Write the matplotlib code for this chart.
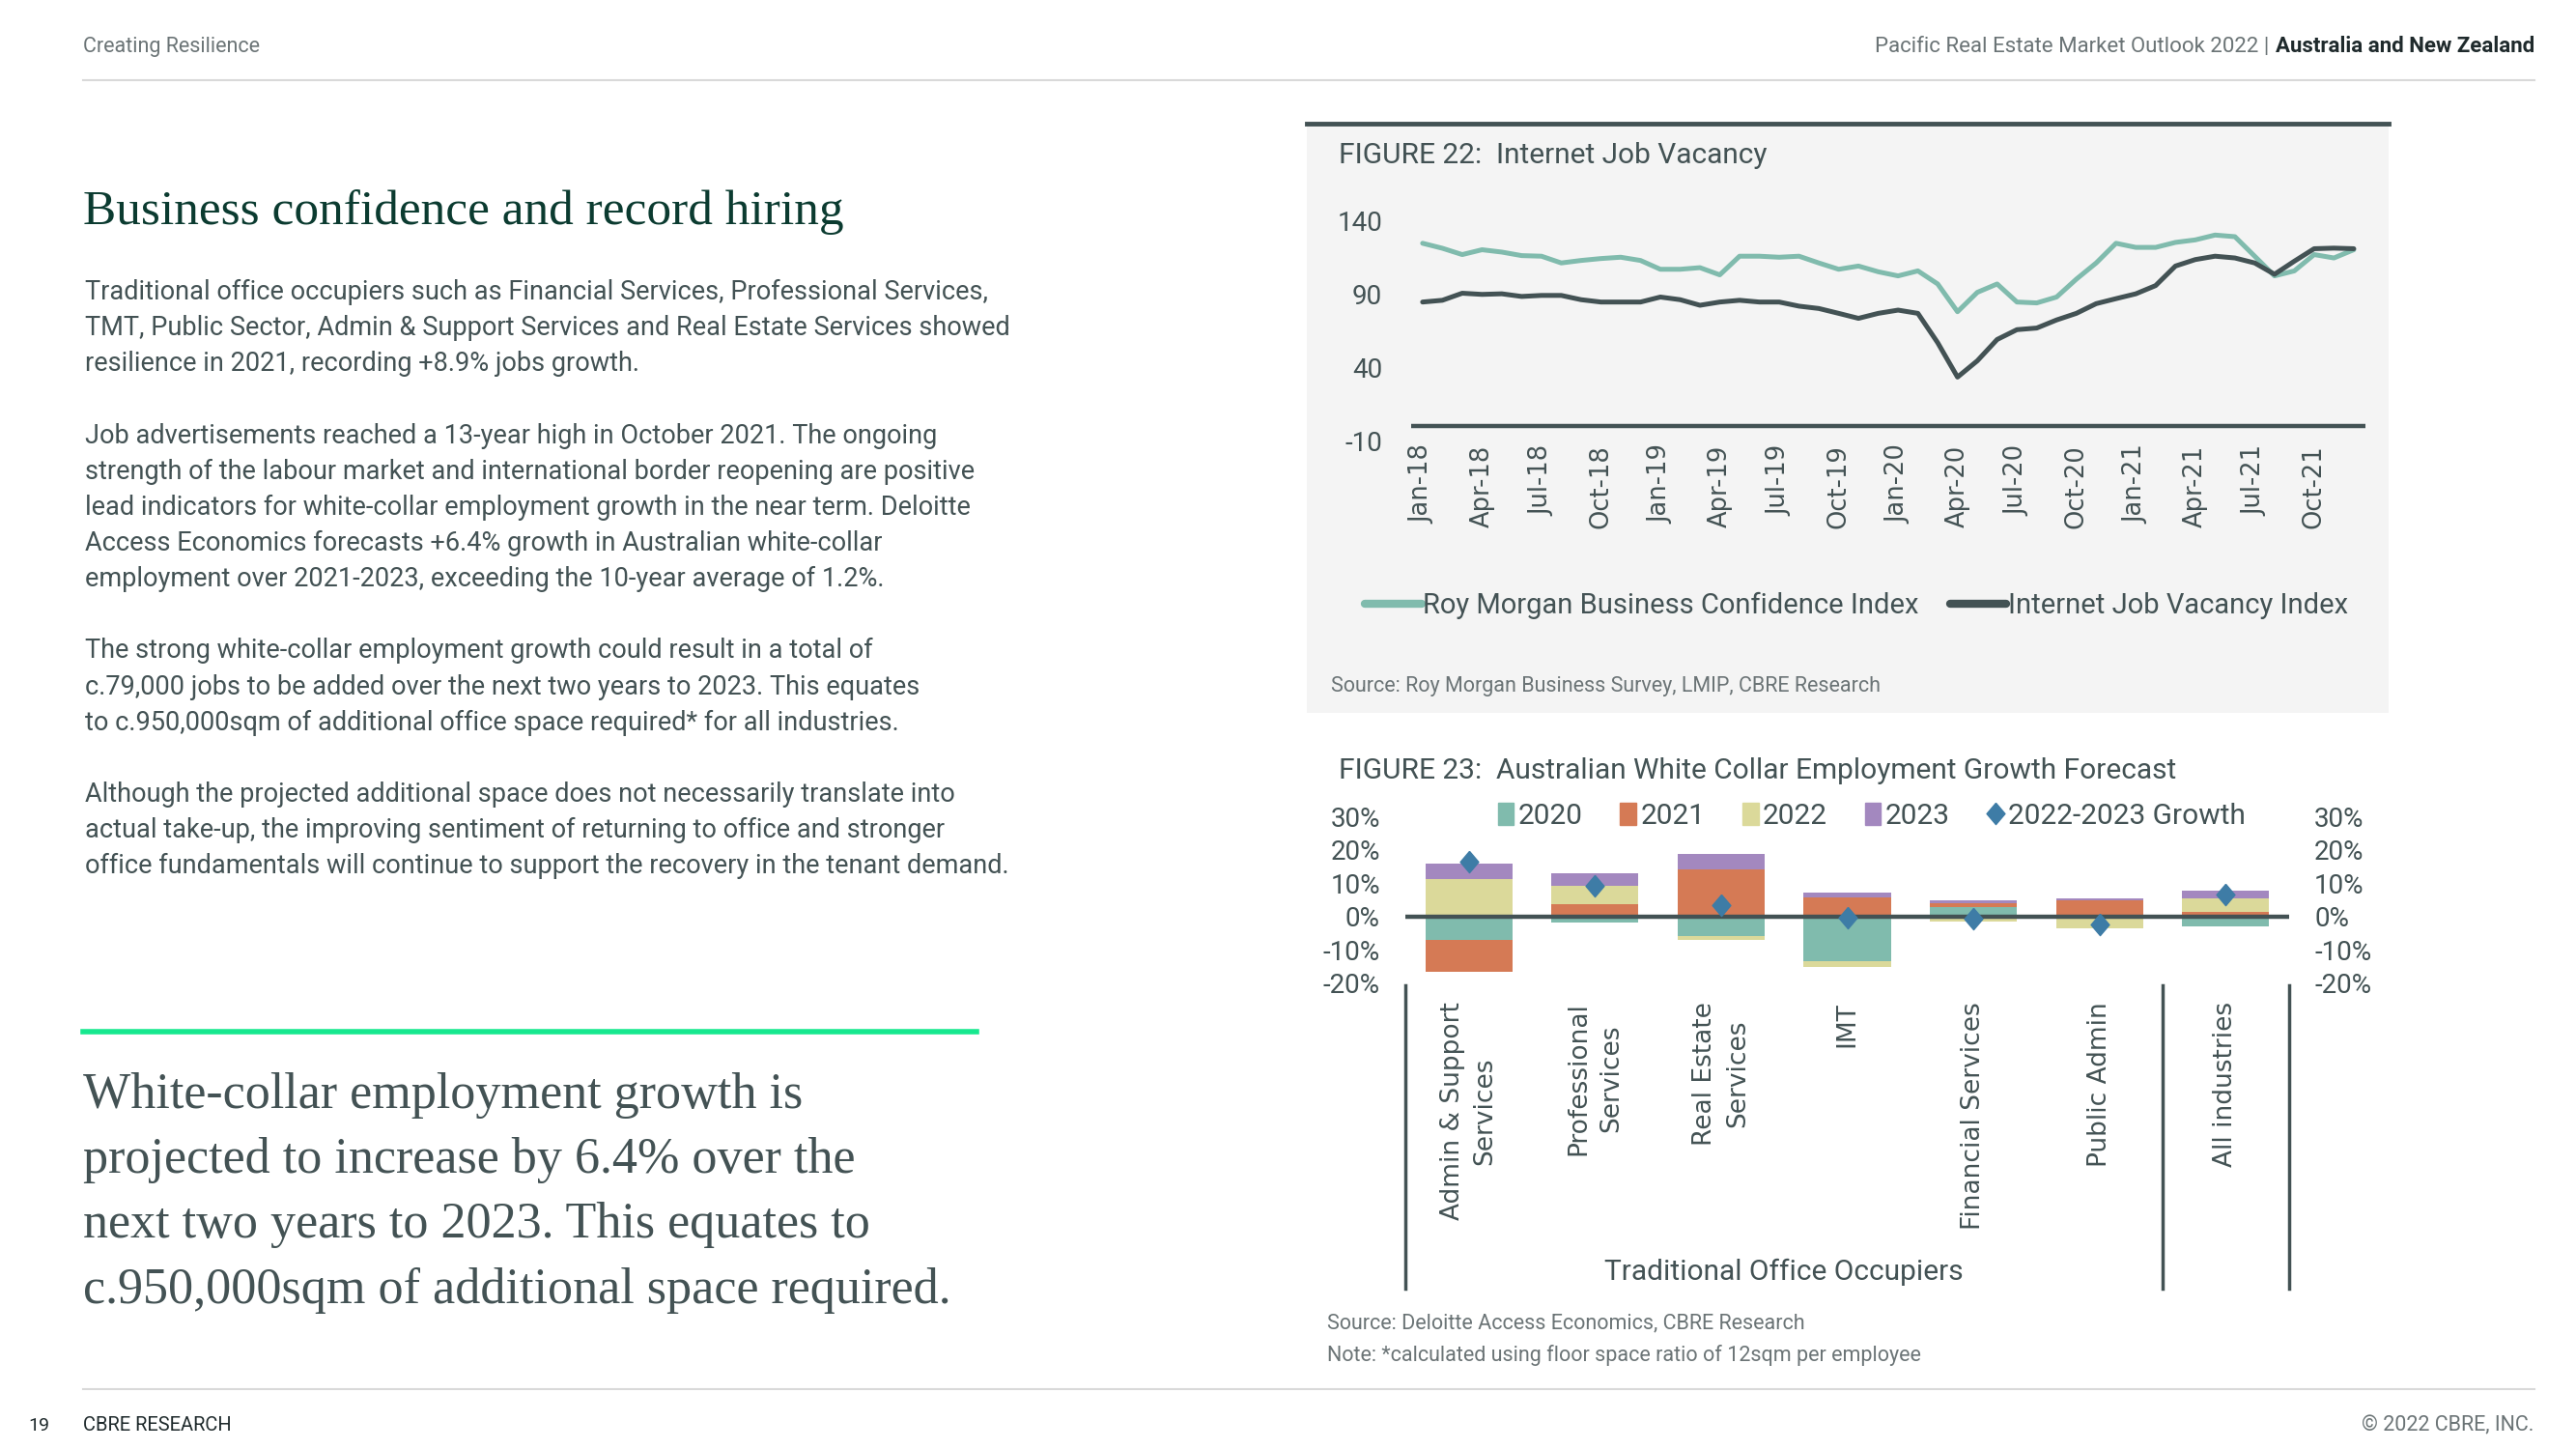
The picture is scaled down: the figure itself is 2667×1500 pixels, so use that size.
import matplotlib
matplotlib.use("Agg")
import matplotlib.pyplot as plt
from matplotlib import font_manager as fm
from matplotlib.lines import Line2D
from matplotlib.patches import Patch, Rectangle

# ---- data ----
months = ["Jan-18", "Feb-18", "Mar-18", "Apr-18", "May-18", "Jun-18", "Jul-18", "Aug-18",
          "Sep-18", "Oct-18", "Nov-18", "Dec-18", "Jan-19", "Feb-19", "Mar-19", "Apr-19",
          "May-19", "Jun-19", "Jul-19", "Aug-19", "Sep-19", "Oct-19", "Nov-19", "Dec-19",
          "Jan-20", "Feb-20", "Mar-20", "Apr-20", "May-20", "Jun-20", "Jul-20", "Aug-20",
          "Sep-20", "Oct-20", "Nov-20", "Dec-20", "Jan-21", "Feb-21", "Mar-21", "Apr-21",
          "May-21", "Jun-21", "Jul-21", "Aug-21", "Sep-21", "Oct-21", "Nov-21", "Dec-21"]
confidence = [124.4, 121, 116.7, 120, 118.4, 116, 115.6, 111, 112.7, 114, 114.9, 112.7,
              106.7, 106.7, 107.8, 102.9, 115.6, 115.6, 114.9, 115.6, 111, 106.7, 108.9, 105,
              102.2, 105.6, 96.7, 77.8, 91, 96.7, 84.4, 83.8, 87.8, 100, 111, 124.4,
              121.6, 121.6, 125, 126.7, 130, 128.9, 115.6, 102.2, 105.6, 116.7, 114.4, 120]
job_vacancy = [84.4, 85.6, 90.4, 89.6, 90, 88.2, 88.9, 88.9, 86, 84.4, 84.4, 84.4,
               87.8, 86, 82.2, 84.4, 85.6, 84.4, 84.4, 81.6, 80, 76.7, 73.3, 76.7,
               78.9, 76.7, 56.7, 33.3, 44.4, 58.9, 65.6, 66.7, 72.2, 76.7, 83.3, 86.7,
               90, 95.6, 108.9, 113.3, 115.6, 114.4, 111, 103.3, 112.2, 120.7, 121.1, 120.7]
yticks22 = [-10, 40, 90, 140]

sectors = ["Admin & Support\nServices", "Professional\nServices", "Real Estate\nServices",
           "IMT", "Financial Services", "Public Admin", "All industries"]
g2020 = [-7.0, -1.7, -5.9, -13.3, 2.7, 0.3, -2.9]
g2021 = [-9.5, 3.8, 14.1, 5.7, 1.4, 4.4, 1.35]
g2022 = [11.2, 5.5, -1.1, -1.7, -1.5, -3.5, 4.0]
g2023 = [4.6, 3.6, 4.6, 1.4, 0.7, 0.7, 2.3]
growth = [16.3, 9.1, 3.3, -0.3, -0.6, -2.3, 6.5]
yticks23 = [-20, -10, 0, 10, 20, 30]

body_lines = [
    "Traditional office occupiers such as Financial Services, Professional Services,",
    "TMT, Public Sector, Admin & Support Services and Real Estate Services showed",
    "resilience in 2021, recording +8.9% jobs growth.",
    "",
    "Job advertisements reached a 13-year high in October 2021. The ongoing",
    "strength of the labour market and international border reopening are positive",
    "lead indicators for white-collar employment growth in the near term. Deloitte",
    "Access Economics forecasts +6.4% growth in Australian white-collar",
    "employment over 2021-2023, exceeding the 10-year average of 1.2%.",
    "",
    "The strong white-collar employment growth could result in a total of",
    "c.79,000 jobs to be added over the next two years to 2023. This equates",
    "to c.950,000sqm of additional office space required* for all industries.",
    "",
    "Although the projected additional space does not necessarily translate into",
    "actual take-up, the improving sentiment of returning to office and stronger",
    "office fundamentals will continue to support the recovery in the tenant demand.",
]
quote_lines = [
    "White-collar employment growth is",
    "projected to increase by 6.4% over the",
    "next two years to 2023. This equates to",
    "c.950,000sqm of additional space required.",
]

# ---- style ----
TEAL = "#80BBAD"
DARK = "#435254"
ORANGE = "#D57A55"
WHEAT = "#DBD99A"
PURPLE = "#A388BF"
BLUE = "#3E7CA6"
GREY = "#6B7476"

names = {f.name for f in fm.fontManager.ttflist}
COND = "Liberation Sans Narrow" if "Liberation Sans Narrow" in names else "Roboto"
BODY = "Roboto"
SERIF = "Liberation Serif"

W, H = 1543.0, 868.0


def fx(x):
    return x / W


def fy(y):
    return 1 - y / H


fig = plt.figure(figsize=(26.67, 15), dpi=100)
fig.patch.set_facecolor("white")
renderer = fig.canvas.get_renderer()

# ---- page header / footer ----
fig.text(fx(50), fy(28), "Creating Resilience", fontsize=15.5, family=BODY, color=GREY, va="center")
bold = fig.text(fx(1518), fy(28), "Australia and New Zealand", fontsize=16, family=BODY,
                fontweight="semibold", color="#1f2a2c", va="center", ha="right")
bx0 = fig.transFigure.inverted().transform(bold.get_window_extent(renderer))[0][0]
fig.text(bx0 - 0.0025, fy(28), "Pacific Real Estate Market Outlook 2022 |", fontsize=16,
         family=BODY, color=GREY, va="center", ha="right")
fig.add_artist(Line2D([fx(50), fx(1518)], [fy(48), fy(48)], color="#D9D9D9", lw=1.5))
fig.add_artist(Line2D([fx(50), fx(1518)], [fy(832), fy(832)], color="#D9D9D9", lw=1.5))
fig.text(fx(17), fy(854), "19", fontsize=14, family=BODY, color="#1f2a2c", va="center")
fig.text(fx(50), fy(854), "CBRE RESEARCH", fontsize=14.5, family=BODY, color="#1f2a2c", va="center")
fig.text(fx(1518), fy(854), "© 2022 CBRE, INC.", fontsize=15.5, family=BODY, color=GREY,
         va="center", ha="right")

# ---- left column text ----
fig.text(fx(50), fy(127), "Business confidence and record hiring", fontsize=37, family=SERIF,
         color="#0B3B30", va="center")
for k, line in enumerate(body_lines):
    fig.text(fx(51), fy(175 + k * 21.5), line, fontsize=19.5, family=BODY, color=DARK,
             va="center")

fig.add_artist(Line2D([fx(50), fx(585)], [fy(618), fy(618)], color="#17E88F", lw=4))
for k, line in enumerate(quote_lines):
    fig.text(fx(50), fy(656 + k * 39), line, fontsize=37.5, family=SERIF, color=DARK,
             va="center")

# ---- FIGURE 22 panel ----
fig.add_artist(Rectangle((fx(783), fy(427)), fx(1431) - fx(783), fy(75) - fy(427),
                         transform=fig.transFigure, facecolor="#F4F4F4", edgecolor="none",
                         zorder=0))
fig.add_artist(Line2D([fx(783), fx(1431)], [fy(74), fy(74)], color=DARK, lw=3.5))
fig.text(fx(802), fy(93), "FIGURE 22:  Internet Job Vacancy", fontsize=21.5, family=COND,
         color=DARK, va="center")

ax1 = fig.add_axes([fx(845), fy(264), fx(1417) - fx(845), fy(132) - fy(264)])
ax1.set_facecolor("none")
x = list(range(len(months)))
ax1.plot(x, confidence, color=TEAL, lw=3.6, solid_capstyle="round",
         label="Roy Morgan Business Confidence Index")
ax1.plot(x, job_vacancy, color=DARK, lw=3.6, solid_capstyle="round",
         label="Internet Job Vacancy Index")
ax1.axhline(0, color=DARK, lw=3.2)
ax1.set_xlim(-0.6, 47.6)
ax1.set_ylim(-10, 140)
ax1.set_yticks(yticks22)
ax1.set_yticklabels([str(v) for v in yticks22], family=COND, fontsize=20, color=DARK)
ax1.set_xticks(x[::3])
ax1.set_xticklabels(months[::3], rotation=90, fontsize=18.5, color=DARK)
ax1.tick_params(length=0)
ax1.tick_params(axis="y", pad=21)
ax1.tick_params(axis="x", pad=3)
for s in ax1.spines.values():
    s.set_visible(False)
leg1 = ax1.legend(loc="center", bbox_to_anchor=(fx(1112), fy(363)),
                  bbox_transform=fig.transFigure, ncol=2, frameon=False,
                  handlelength=2.0, handletextpad=0.05, columnspacing=1.1,
                  prop={"family": COND, "size": 21})
for t in leg1.get_texts():
    t.set_color(DARK)
for h in leg1.get_lines():
    h.set_linewidth(6)
fig.text(fx(797), fy(411), "Source: Roy Morgan Business Survey, LMIP, CBRE Research",
         fontsize=15.5, family=COND, color=GREY, va="center")

# ---- FIGURE 23 ----
fig.text(fx(802), fy(462), "FIGURE 23:  Australian White Collar Employment Growth Forecast",
         fontsize=21.5, family=COND, color=DARK, va="center")

ax2 = fig.add_axes([fx(842), fy(589), fx(1371) - fx(842), fy(489) - fy(589)])
ax2.set_facecolor("none")
pos = list(range(len(sectors)))
series = [(g2020, TEAL, "2020"), (g2021, ORANGE, "2021"), (g2022, WHEAT, "2022"),
          (g2023, PURPLE, "2023")]
pos_base = [0.0] * len(sectors)
neg_base = [0.0] * len(sectors)
for vals, col, lab in series:
    bottoms = []
    for i, v in enumerate(vals):
        if v >= 0:
            bottoms.append(pos_base[i])
            pos_base[i] += v
        else:
            bottoms.append(neg_base[i])
            neg_base[i] += v
    ax2.bar(pos, vals, bottom=bottoms, width=0.69, color=col, label=lab, zorder=2)
ax2.axhline(0, color=DARK, lw=3.2, zorder=3)
diamond = [(0, 1), (0.85, 0), (0, -1), (-0.85, 0), (0, 1)]
ax2.plot(pos, growth, linestyle="none", marker=diamond, markersize=16, color=BLUE,
         label="2022-2023 Growth", zorder=4)
ax2.set_xlim(-0.5, 6.5)
ax2.set_ylim(-20, 30)
ax2.set_yticks(yticks23)
ax2.set_yticklabels([f"{v}%" for v in yticks23], family=COND, fontsize=20, color=DARK)
ax2.set_xticks([])
ax2.tick_params(axis="y", length=0, pad=19, labelright=True)
for s in ax2.spines.values():
    s.set_visible(False)

tr = ax2.get_xaxis_transform()
for xv in [-0.5, 5.5, 6.5]:
    ax2.plot([xv, xv], [-0.01, -1.83], color=DARK, lw=2.5, transform=tr, clip_on=False)
for i, name in enumerate(sectors):
    ax2.text(i, -0.11, name, transform=tr, rotation=90, va="top", ha="center",
             multialignment="center", fontsize=19, color=DARK, linespacing=1.4)
ax2.text(2.5, -1.73, "Traditional Office Occupiers", transform=tr, ha="center", va="center",
         family=COND, fontsize=21.5, color=DARK)

handles = [Patch(color=TEAL), Patch(color=ORANGE), Patch(color=WHEAT), Patch(color=PURPLE),
           Line2D([], [], linestyle="none", marker=diamond, markersize=16, color=BLUE)]
leg2 = ax2.legend(handles, ["2020", "2021", "2022", "2023", "2022-2023 Growth"],
                  loc="center", bbox_to_anchor=(fx(1121), fy(489)),
                  bbox_transform=fig.transFigure, ncol=5, frameon=False,
                  handlelength=0.55, handleheight=0.8, handletextpad=0.15,
                  columnspacing=1.3, prop={"family": COND, "size": 21.5})
for t in leg2.get_texts():
    t.set_color(DARK)

fig.text(fx(795), fy(793), "Source: Deloitte Access Economics, CBRE Research",
         fontsize=15.5, family=COND, color=GREY, va="center")
fig.text(fx(795), fy(812), "Note: *calculated using floor space ratio of 12sqm per employee",
         fontsize=15.5, family=COND, color=GREY, va="center")

fig.savefig("out.png", dpi=100, facecolor="white")
